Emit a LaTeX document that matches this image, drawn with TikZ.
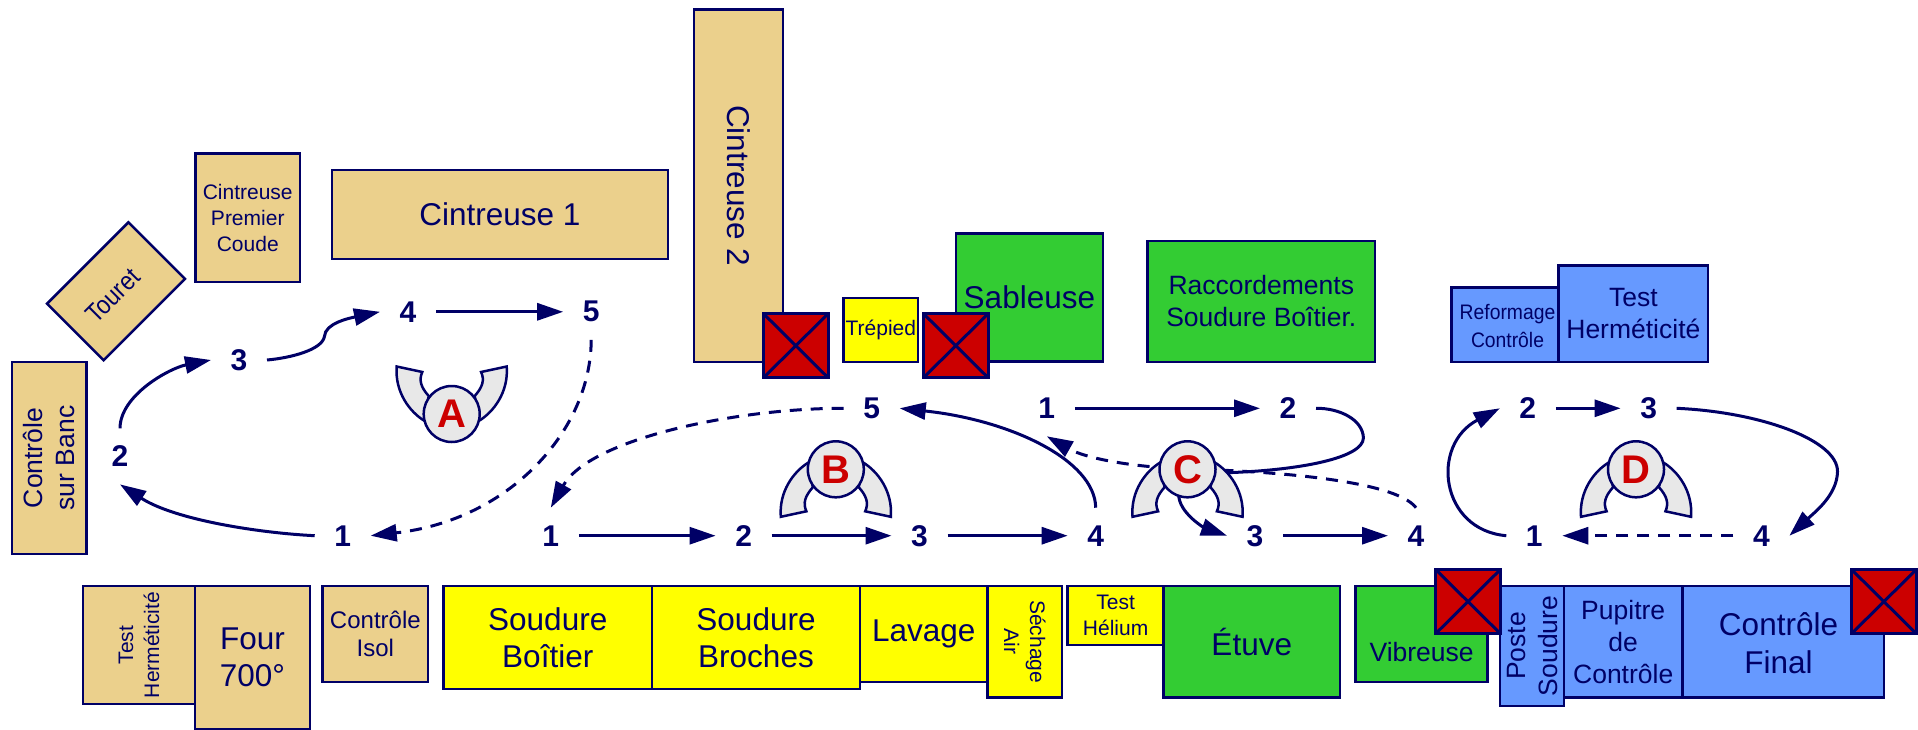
\documentclass[tikz,border=0pt]{standalone}
\usepackage{fontspec}
\setmainfont{Liberation Sans}
\usetikzlibrary{arrows.meta}
\definecolor{linenavy}{HTML}{000066}
\definecolor{machinebeige}{HTML}{EBD08C}
\definecolor{machineyellow}{HTML}{FFFF00}
\definecolor{machinegreen}{HTML}{33CC33}
\definecolor{machineblue}{HTML}{6699FF}
\definecolor{stopred}{HTML}{CC0000}
\definecolor{wingfill}{HTML}{E8E8E8}
\tikzset{
	machine/.style={draw=linenavy, line width=2.5, anchor=north west, outer sep=0, inner sep=0, align=center, text=linenavy},
	boxsize/.style n args={2}{minimum width=#1, minimum height=#2},
	beigebox/.style={machine, fill=machinebeige},
	yellowbox/.style={machine, fill=machineyellow},
	greenbox/.style={machine, fill=machinegreen},
	bluebox/.style={machine, fill=machineblue},
	stopbox/.style={machine, fill=stopred, line width=3, boxsize={64.4}{63.8}},
	caption/.style={align=center, text=linenavy, inner sep=0},
	txtL/.style={font=\fontsize{31.5}{37.5}\selectfont},
	txtM/.style={font=\fontsize{26.5}{32}\selectfont},
	txtS/.style={font=\fontsize{21}{26}\selectfont},
	num/.style={circle, minimum size=56, inner sep=0, outer sep=0, text=linenavy, font=\fontsize{30}{30}\selectfont\bfseries},
	path/.style={draw=linenavy, line width=3, -{Triangle[length=26,width=17]}},
	backpath/.style={path, dash pattern=on 12pt off 9pt},
	wing/.style={draw=linenavy, line width=2.5, fill=wingfill},
	robot/.style={circle, draw=linenavy, line width=2.5, fill=wingfill, minimum size=56, inner sep=0, outer sep=0, text=stopred, font=\fontsize{40}{40}\selectfont\bfseries},
}
\def\wings(#1,#2)[#3]{
	\draw[wing, shift={(#1,#2)}, yscale=#3] (-55,47.5) .. controls (-57,22) and (-42,2) .. (-27,-7) -- (-23,18) .. controls (-31,27) and (-33,34) .. (-29.4,42) -- cycle;
	\draw[wing, shift={(#1,#2)}, yscale=#3] (55,47.5) .. controls (57,22) and (42,2) .. (27,-7) -- (23,18) .. controls (31,27) and (33,34) .. (29.4,42) -- cycle;
}

\begin{document}
\begin{tikzpicture}[x=1pt, y=1pt]
			%%%%% START %%%%%
			\useasboundingbox (0,0) rectangle (1918,-730);
			
			\node[beigebox, boxsize={104.5}{128.3}, txtS] (coude) at (195.5,-153.7) {Cintreuse\\Premier\\Coude};
			\node[beigebox, boxsize={336}{89}, txtL] (cintreuseA) at (332,-170) {Cintreuse 1};
			\node[beigebox, boxsize={115}{80}, anchor=center, rotate=45] (touret) at (116,-291.3) {};
			\node[caption, rotate=45, xscale=0.88, transform shape, font=\fontsize{26}{30}\selectfont] (touretText) at (113,-295.5) {Touret};
			\node[beigebox, boxsize={74.7}{192}] (banc) at (11.8,-362) {};
			\node[caption, rotate=90, txtM] (bancText) at (banc) {Contrôle\\sur Banc};
			\node[beigebox, boxsize={89}{352.5}] (cintreuseB) at (694,-9.3) {};
			\node[caption, rotate=-90, txtL] (cintreuseBText) at (cintreuseB) {Cintreuse 2};
			
			\node[beigebox, boxsize={112}{118}] (testA) at (83,-586) {};
			\node[caption, rotate=90, txtS] (testAText) at (testA) {Test\\Herméticité};
			\node[beigebox, boxsize={115}{143}, txtL] (four) at (195,-586) {Four\\700°};
			\node[beigebox, boxsize={105.3}{96}, font=\fontsize{24}{28}\selectfont] (isol) at (322.7,-586) {Contrôle\\Isol};
			
			\node[yellowbox, boxsize={208.5}{103}, txtL] (boitier) at (443.5,-586) {Soudure\\Boîtier};
			\node[yellowbox, boxsize={208}{103}, txtL] (broches) at (652,-586) {Soudure\\Broches};
			\node[yellowbox, boxsize={127.6}{96}, txtL] (lavage) at (860,-586) {Lavage};
			\node[yellowbox, boxsize={74.4}{111.5}] (sechage) at (987.6,-586) {};
			\node[caption, rotate=-90, txtS] (sechageText) at (sechage) {Séchage\\Air};
			\node[yellowbox, boxsize={96}{59}, txtS] (helium) at (1067.6,-586) {Test\\Hélium};
			\node[yellowbox, boxsize={74.4}{64}, txtS] (trepied) at (843.6,-298) {Trépied};
			
			\node[greenbox, boxsize={176.5}{111.5}, txtL] (etuve) at (1163.5,-586) {Étuve};
			\node[greenbox, boxsize={147.2}{128}, txtL] (sableuse) at (955.8,-233.7) {Sableuse};
			\node[greenbox, boxsize={227.4}{121}, txtM] (raccord) at (1147.6,-241) {Raccordements\\Soudure Boîtier.};
			\node[greenbox, boxsize={131.8}{96}] (vibreuse) at (1355.7,-586) {};
			\node[caption, txtM] (vibreuseText) at (1421.6,-651.7) {Vibreuse};
			
			\node[bluebox, boxsize={107}{74.7}] (reformage) at (1451.7,-287.3) {};
			\node[caption, xscale=0.92, transform shape, font=\fontsize{21}{27.5}\selectfont] (reformageText) at (1507.5,-326) {Reformage\\Contrôle};
			\node[bluebox, boxsize={149.3}{96.3}, txtM] (testB) at (1558.7,-265.7) {Test\\Herméticité};
			\node[bluebox, boxsize={64}{120}] (poste) at (1500,-586) {};
			\node[caption, rotate=90, txtM] (posteText) at (poste) {Poste\\Soudure};
			\node[bluebox, boxsize={118.4}{111.7}, txtM] (pupitre) at (1564,-586) {Pupitre\\de\\Contrôle};
			\node[bluebox, boxsize={201.6}{111.7}] (final) at (1682.4,-586) {};
			\node[caption, txtL] (finalText) at (1778.5,-643) {Contrôle\\Final};
			
			\foreach \n/\x/\y in {stopA/763.6/-313.8, stopB/923.6/-313.8, stopC/1435.8/-569.7, stopD/1851.7/-569.7}{
				\node[stopbox] (\n) at (\x,\y) {};
				\draw[linenavy, line width=3] (\n.north west) -- (\n.south east) (\n.north east) -- (\n.south west);
			}
			
			\node[num] (a1) at (342.7,-535.7) {1};
			\node[num] (a2) at (120,-456.4) {2};
			\node[num] (a3) at (239,-360) {3};
			\node[num] (a4) at (408,-311.8) {4};
			\node[num] (a5) at (591.2,-311.8) {5};
			
			\node[num] (b1) at (550.8,-535.7) {1};
			\node[num] (b2) at (743.6,-535.7) {2};
			\node[num] (b3) at (919.5,-535.7) {3};
			\node[num] (b4) at (1095.7,-535.7) {4};
			\node[num] (b5) at (871.7,-408.3) {5};
			
			\node[num] (c1) at (1046.8,-408.3) {1};
			\node[num] (c2) at (1288,-408.3) {2};
			\node[num] (c3) at (1255,-535.7) {3};
			\node[num] (c4) at (1416,-535.7) {4};
			
			\node[num] (d1) at (1534.3,-535.7) {1};
			\node[num] (d2) at (1527.8,-408.3) {2};
			\node[num] (d3) at (1648.6,-408.3) {3};
			\node[num] (d4) at (1761.4,-535.7) {4};
			
			\draw[path] (a1.west) .. controls (260,-533) and (175,-520) .. (a2.south);
			\draw[path] (a2.north) .. controls (120,-395) and (170,-368) .. (a3.west);
			\draw[path] (a3.east) .. controls (290,-358) and (322,-350) .. (324.4,-336.6) .. controls (325,-323) and (350,-318) .. (a4.west);
			\draw[path] (a4) -- (a5);
			\draw[backpath] (a5.south) .. controls (591,-430) and (510,-520) .. (a1.east);
			
			\draw[path] (b1) -- (b2);
			\draw[path] (b2) -- (b3);
			\draw[path] (b3) -- (b4);
			\draw[path] (b4.north) .. controls (1095,-460) and (1010,-420) .. (b5.east);
			\draw[backpath] (b5.west) .. controls (740,-408) and (590,-438) .. (b1.north);
			
			\draw[path] (c1) -- (c2);
			\draw[path] (c2.east) .. controls (1340,-408) and (1363,-420) .. (1363.4,-438) .. controls (1363,-458) and (1300,-470) .. (1230,-472.6) .. controls (1195,-473) and (1176,-480) .. (1179,-498) .. controls (1182,-515) and (1205,-528) .. (c3.west);
			\draw[path] (c3) -- (c4);
			\draw[backpath] (c4.north) .. controls (1395,-480) and (1270,-471) .. (1187,-469) .. controls (1130,-467) and (1085,-458) .. (c1.south);
			
			\draw[path] (d1.west) .. controls (1440,-530) and (1430,-445) .. (d2.west);
			\draw[path] (d2) -- (d3);
			\draw[path] (d3.east) .. controls (1760,-412) and (1838,-440) .. (1837.5,-471.7) .. controls (1837,-495) and (1815,-512) .. (d4.east);
			\draw[backpath] (d4) -- (d1);
			
			\wings(451.7,-414)[1]
			\node[robot] (robotA) at (451.7,-414) {A};
			\wings(835.8,-469.3)[-1]
			\node[robot] (robotB) at (835.8,-469.3) {B};
			\wings(1187.5,-469.3)[-1]
			\node[robot] (robotC) at (1187.5,-469.3) {C};
			\wings(1636,-469.3)[-1]
			\node[robot] (robotD) at (1636,-469.3) {D};
			
			%%%%% END %%%%%
		\end{tikzpicture}
\end{document}
